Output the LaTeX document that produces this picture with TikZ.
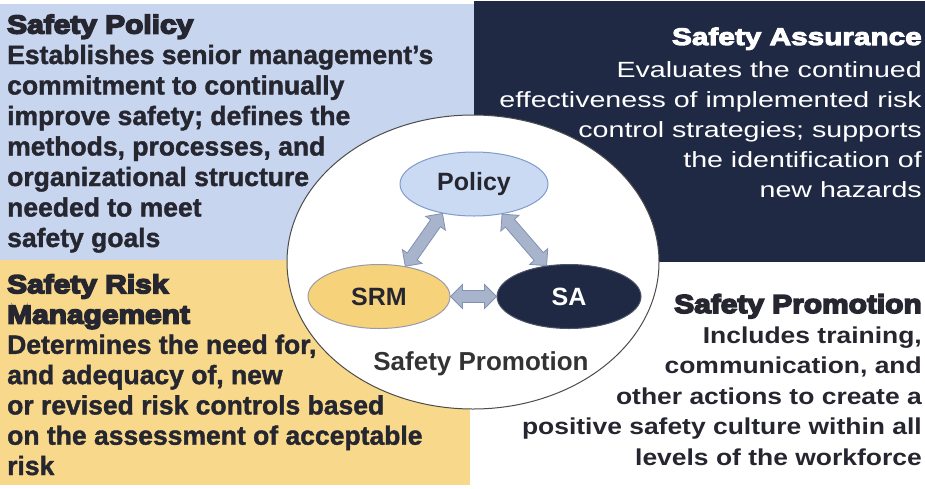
\documentclass[tikz,border=0pt]{standalone}
\usepackage{fontspec}
\setmainfont{Liberation Sans}
\newfontfamily\fheavy{Liberation Sans Bold}[FakeStretch=1.15]
\newfontfamily\fheavyb{Liberation Sans Bold}[FakeStretch=1.24]
\newfontfamily\fbold{Liberation Sans Bold}
\newfontfamily\fboldw{Liberation Sans Bold}[FakeStretch=1.15]
\newfontfamily\fregw{Liberation Sans}[FakeStretch=1.3]
\newcommand{\thick}[2]{\special{pdf:literal direct 2 Tr #1 w}#2\special{pdf:literal direct 0 Tr}}
\usetikzlibrary{shapes.geometric,calc}
\definecolor{polblue}{HTML}{C7D5EF}
\definecolor{navy}{HTML}{1F2944}
\definecolor{sryel}{HTML}{F8D98C}
\definecolor{txt}{HTML}{262630}
\definecolor{arrfill}{HTML}{A8B4CB}
\definecolor{arrdraw}{HTML}{8291B0}
\definecolor{polfill}{HTML}{CADAF2}
\definecolor{poldraw}{HTML}{7F9CCB}
\definecolor{srmfill}{HTML}{F6D27A}
\definecolor{srmdraw}{HTML}{9A9AA8}
\tikzset{
  txtblock/.style={inner sep=0pt, text=txt},
  elnode/.style={ellipse, inner sep=0pt, line width=1pt},
  dblarr/.style={fill=arrfill, draw=arrdraw, line width=0.8pt, line join=miter},
}
\newcommand{\blockarrow}[2]{%
  \path #1 coordinate (ba) #2 coordinate (bb);
  \filldraw[dblarr] (ba)
    -- ($(ba)!12pt!(bb)!12pt!90:(bb)$)
    -- ($(ba)!12pt!(bb)!6pt!90:(bb)$)
    -- ($(bb)!12pt!(ba)!6pt!-90:(ba)$)
    -- ($(bb)!12pt!(ba)!12pt!-90:(ba)$)
    -- (bb)
    -- ($(bb)!12pt!(ba)!12pt!90:(ba)$)
    -- ($(bb)!12pt!(ba)!6pt!90:(ba)$)
    -- ($(ba)!12pt!(bb)!6pt!-90:(bb)$)
    -- ($(ba)!12pt!(bb)!12pt!-90:(bb)$)
    -- cycle;}
\begin{document}
\begin{tikzpicture}[x=1pt,y=-1pt]
\useasboundingbox (0,0) rectangle (925,488);
\fill[white] (0,0) rectangle (925,488);
% quadrants
\fill[polblue] (0,4) rectangle (474,260);
\fill[navy] (474,1) rectangle (925,262);
\fill[sryel] (0,260) rectangle (470,485);
% texts (base anchor = baseline of last line)
\node[txtblock, anchor=base west, align=left, font=\fbold\fontsize{26.5}{30.5}\selectfont] (tp) at (7,247)
 {{\fheavy\fontsize{26}{30.5}\selectfont\thick{1.6}{Safety Policy}}\\
  \thick{0.4}{Establishes senior management’s}\\
  \thick{0.4}{commitment to continually}\\
  \thick{0.4}{improve safety; defines the}\\
  \thick{0.4}{methods, processes, and}\\
  \thick{0.4}{organizational structure}\\
  \thick{0.4}{needed to meet}\\
  \thick{0.4}{safety goals}};
\node[txtblock, anchor=base west, align=left, font=\fbold\fontsize{26.5}{30.3}\selectfont] (tsrm) at (7,475)
 {{\fheavy\fontsize{26}{30.3}\selectfont\thick{1.6}{Safety Risk}}\\
  {\fheavy\fontsize{26}{30.3}\selectfont\thick{1.6}{Management}}\\
  \thick{0.4}{Determines the need for,}\\
  \thick{0.4}{and adequacy of, new}\\
  \thick{0.4}{or revised risk controls based}\\
  \thick{0.4}{on the assessment of acceptable}\\
  \thick{0.4}{risk}};
\node[inner sep=0pt, text=white, anchor=base east, align=right, font=\fregw\fontsize{22}{30}\selectfont] (tsa) at (922,197)
 {{\fheavyb\fontsize{24}{30}\selectfont\thick{1.0}{Safety Assurance}}\\[2pt]
  Evaluates the continued\\
  effectiveness of implemented risk\\
  control strategies; supports\\
  the identification of\\
  new hazards};
\node[txtblock, anchor=base east, align=right, font=\fboldw\fontsize{23}{30.4}\selectfont] (tsp) at (922,465)
 {{\fheavy\fontsize{26}{30.4}\selectfont\thick{1.6}{Safety Promotion}}\\
  Includes training,\\
  communication, and\\
  other actions to create a\\
  positive safety culture within all\\
  levels of the workforce};
% central circle
\node[ellipse, draw=black!70, fill=white, line width=1pt, minimum width=372pt, minimum height=294pt] (circ) at (473,262) {};
\node[elnode, fill=polfill, draw=poldraw, minimum width=148pt, minimum height=64pt, font=\fbold\fontsize{25}{30}\selectfont, text=txt] (pol) at (474,184) {Policy};
\node[elnode, fill=srmfill, draw=srmdraw, minimum width=142pt, minimum height=64pt, font=\fbold\fontsize{25}{30}\selectfont, text=txt] (srm) at (379,296.5) {SRM};
\node[elnode, fill=navy, draw=navy!80!white, minimum width=144pt, minimum height=64pt, font=\fbold\fontsize{25}{30}\selectfont, text=white] (sa) at (569,296.5) {SA};
\node[inner sep=0pt, font=\fbold\fontsize{26}{30}\selectfont, text=black!80, anchor=base] (spc) at (481,370) {Safety Promotion};
% arrows
\blockarrow{(pol.-137)}{(srm.49)}
\blockarrow{(pol.-47)}{(sa.126)}
\blockarrow{(srm.east)}{(sa.west)}
\end{tikzpicture}
\end{document}
